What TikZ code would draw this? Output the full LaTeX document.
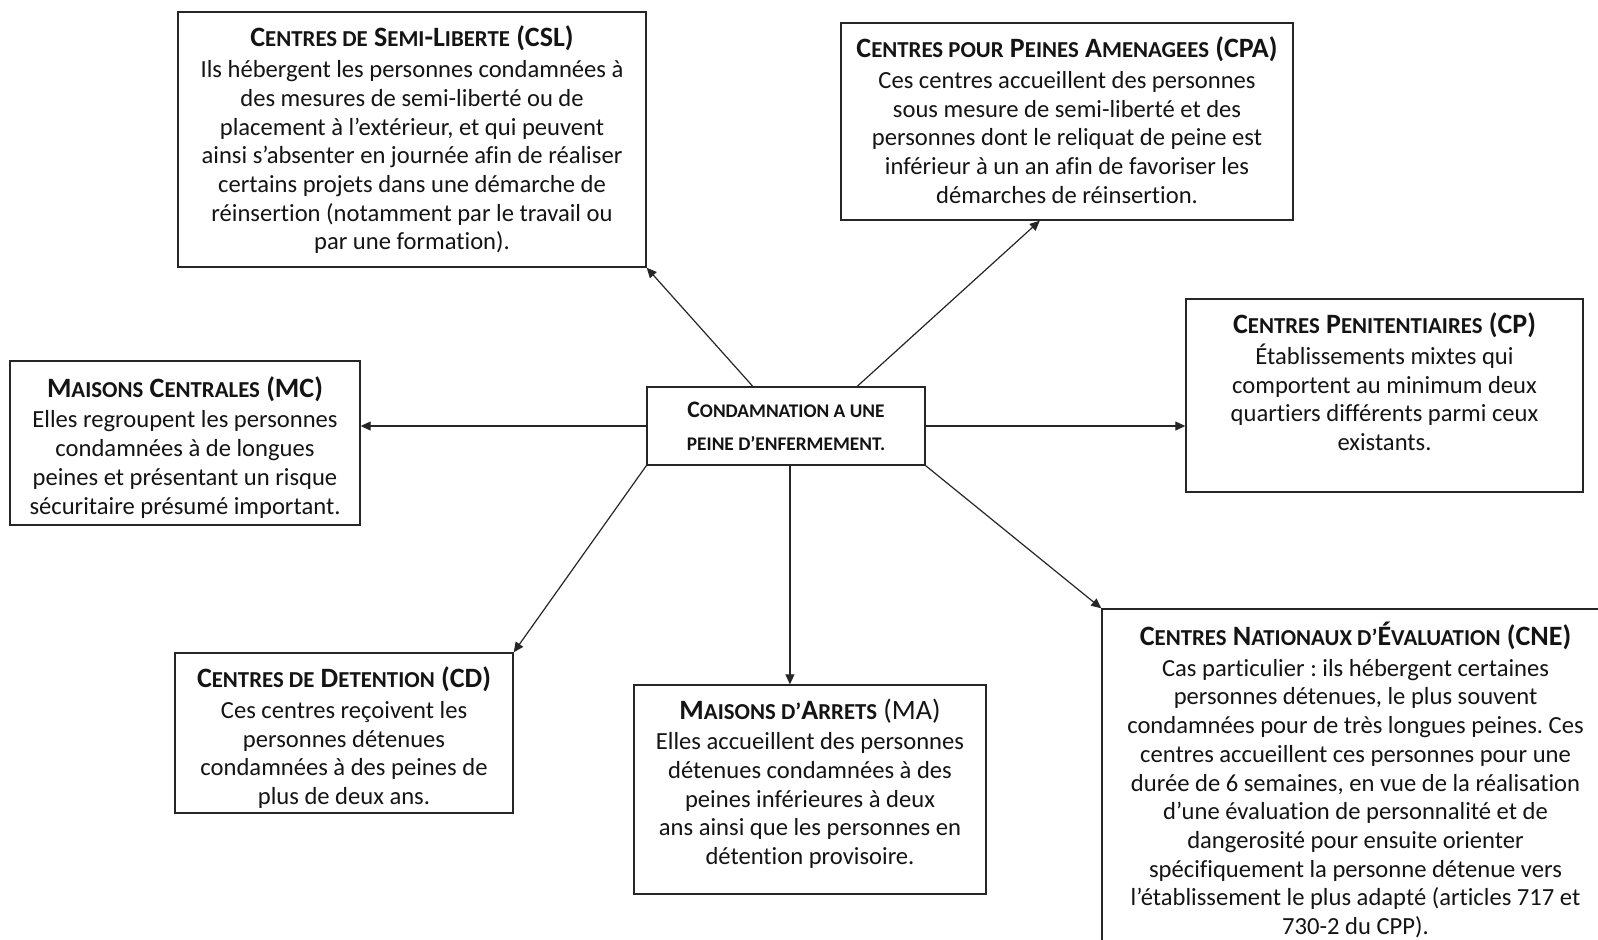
\documentclass[tikz,border=0pt]{standalone}
\usepackage{fontspec}
\setmainfont{Carlito}[Ligatures={TeX,NoCommon}]
\usetikzlibrary{arrows.meta,calc}
\newcommand\hd[1]{{\fontsize{14pt}{14.35pt}\selectfont\bfseries #1}}
\newcommand\smc[1]{{\fontsize{11.4pt}{14.35pt}\selectfont #1}}
\newcommand\smcc[1]{{\fontsize{9.65pt}{16.8pt}\selectfont #1}}
\frenchspacing
\begin{document}
\begin{tikzpicture}[x=0.5pt,y=-0.5pt,
  box/.style={draw=black!85, line width=0.7pt, inner sep=0pt},
  txt/.style={align=center, inner sep=0pt, anchor=north, text=black!92,
    font=\fontsize{12.3pt}{14.35pt}\selectfont, execute at begin node={\rule{0pt}{9pt}}},
  ctxt/.style={align=center, inner sep=0pt, anchor=north, text=black!92,
    font=\fontsize{11.8pt}{16.8pt}\selectfont\bfseries, execute at begin node={\rule{0pt}{7pt}}},
  conn/.style={draw=black!85, line width=0.6pt, -{Triangle[length=5pt,width=4.5pt]}}]
\clip (0,0) rectangle (1598,939);
\fill[white] (0,0) rectangle (1598,939);

% boxes
\node[box, minimum width=234pt, minimum height=127.5pt] (csl) at (412,139.5) {};
\node[box, minimum width=226pt, minimum height=98.5pt] (cpa) at (1067,121.5) {};
\node[box, minimum width=175pt, minimum height=82pt] (mc) at (185,443) {};
\node[box, minimum width=139pt, minimum height=39pt] (c) at (786,426) {};
\node[box, minimum width=198.5pt, minimum height=96.5pt] (cp) at (1384.5,395.5) {};
\node[box, minimum width=169pt, minimum height=80pt] (cd) at (344,733) {};
\node[box, minimum width=176pt, minimum height=104.5pt] (ma) at (810,789.5) {};
\node[box, minimum width=253.5pt, minimum height=178pt] (cne) at (1355.5,787) {};

% texts
\node[txt] (csl-t) at ($(csl.north)+(0,14.5)$) {\hd{C\smc{ENTRES DE} S\smc{EMI}-L\smc{IBERTE} (CSL)}\\[1pt]
Ils hébergent les personnes condamnées à\\
des mesures de semi-liberté ou de\\
placement à l’extérieur, et qui peuvent\\
ainsi s’absenter en journée afin de réaliser\\
certains projets dans une démarche de\\
réinsertion (notamment par le travail ou\\
par une formation).};

\node[txt] (cpa-t) at ($(cpa.north)+(0,14.3)$) {\hd{C\smc{ENTRES POUR} P\smc{EINES} A\smc{MENAGEES} (CPA)}\\[1pt]
Ces centres accueillent des personnes\\
sous mesure de semi-liberté et des\\
personnes dont le reliquat de peine est\\
inférieur à un an afin de favoriser les\\
démarches de réinsertion.};

\node[txt] (mc-t) at ($(mc.north)+(0,15.8)$) {\hd{M\smc{AISONS} C\smc{ENTRALES} (MC)}\\[1pt]
Elles regroupent les personnes\\
condamnées à de longues\\
peines et présentant un risque\\
sécuritaire présumé important.};

\node[ctxt] (c-t) at ($(c.north)+(0,15)$) {C\smcc{ONDAMNATION A UNE}\\
\smcc{PEINE D’ENFERMEMENT.}};

\node[txt] (cp-t) at ($(cp.north)+(0,14.3)$) {\hd{C\smc{ENTRES} P\smc{ENITENTIAIRES} (CP)}\\[1pt]
Établissements mixtes qui\\
comportent au minimum deux\\
quartiers différents parmi ceux\\
existants.};

\node[txt] (cd-t) at ($(cd.north)+(0,14.3)$) {\hd{C\smc{ENTRES DE} D\smc{ETENTION} (CD)}\\[1pt]
Ces centres reçoivent les\\
personnes détenues\\
condamnées à des peines de\\
plus de deux ans.};

\node[txt] (ma-t) at ($(ma.north)+(0,13.8)$) {\hd{M\smc{AISONS D’}A\smc{RRETS} {\mdseries (MA)}}\\[1pt]
Elles accueillent des personnes\\
détenues condamnées à des\\
peines inférieures à deux\\
ans ainsi que les personnes en\\
détention provisoire.};

\node[txt] (cne-t) at ($(cne.north)+(0,13.3)$) {\hd{C\smc{ENTRES} N\smc{ATIONAUX D’}É\smc{VALUATION} (CNE)}\\[1pt]
Cas particulier : ils hébergent certaines\\
personnes détenues, le plus souvent\\
condamnées pour de très longues peines. Ces\\
centres accueillent ces personnes pour une\\
durée de 6 semaines, en vue de la réalisation\\
d’une évaluation de personnalité et de\\
dangerosité pour ensuite orienter\\
spécifiquement la personne détenue vers\\
l’établissement le plus adapté (articles 717 et\\
730-2 du CPP).};

% connectors
\coordinate (c1) at ($(c.north west)!0.381!(c.north east)$);
\coordinate (c2) at ($(c.north west)!0.755!(c.north east)$);
\coordinate (cpa1) at ($(cpa.south west)!0.44!(cpa.south east)$);
\coordinate (c3) at ($(c.south west)!0.514!(c.south east)$);
\draw[conn] (c1) -- (csl.south east);
\draw[conn] (c2) -- (cpa1);
\draw[conn] (c.west) -- (c.west -| mc.east);
\draw[conn] (c.east) -- (c.east -| cp.west);
\draw[conn] (c.south west) -- (cd.north east);
\draw[conn] (c3) -- (c3 |- ma.north);
\draw[conn] (c.south east) -- (cne.north west);
\end{tikzpicture}
\end{document}
